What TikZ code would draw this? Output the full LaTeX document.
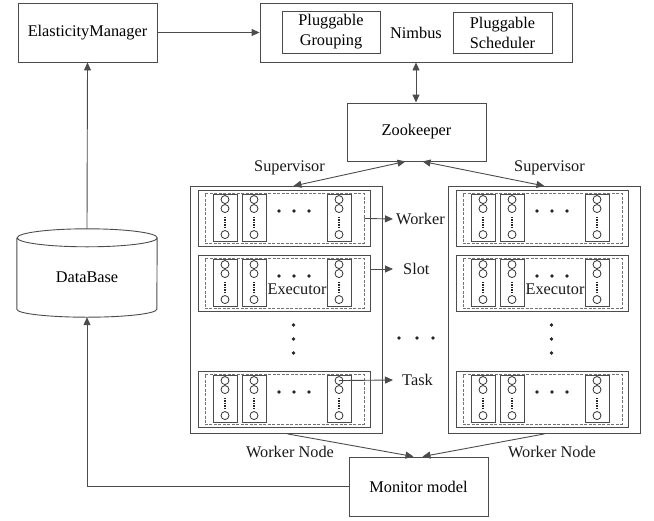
\documentclass[tikz,border=0pt]{standalone}
\usepackage{fontspec}
\setmainfont{Liberation Serif}
\usetikzlibrary{arrows.meta,calc,positioning}

\tikzset{
  box/.style={rectangle,draw=black!70,line width=0.9pt,inner sep=0pt},
  dashbox/.style={rectangle,draw=black!55,line width=0.7pt,dash pattern=on 3pt off 1.5pt,inner sep=0pt},
  ring/.style={circle,draw=black!80,line width=0.8pt,minimum size=8pt,inner sep=0pt},
  lbl/.style={inner sep=0pt,text=black!90},
  conn/.style={draw=black!70,line width=0.9pt,-{Triangle[length=8pt,width=7pt]}},
  dconn/.style={draw=black!70,line width=0.9pt,{Triangle[length=8pt,width=7pt]}-{Triangle[length=8pt,width=7pt]}}
}

\begin{document}
\begin{tikzpicture}[x=1pt,y=-1pt,font=\fontsize{16.3}{20}\selectfont]
\useasboundingbox (0,0) rectangle (654,520);

\node (em) at (87.5,32.5) [box,minimum width=139,minimum height=59] {ElasticityManager};
\node (nimbus) at (416,32.5) [box,minimum width=312,minimum height=59] {Nimbus};
\node (pg) at (331,32) [box,minimum width=98,minimum height=42,align=center] {Pluggable\\Grouping};
\node (ps) at (502.5,32.5) [box,minimum width=99,minimum height=41,align=center] {Pluggable\\Scheduler};
\node (zk) at (416.5,132) [box,minimum width=139,minimum height=58] {Zookeeper};
\node (db) at (87,277.5) [minimum width=140,minimum height=79,inner sep=0pt] {DataBase};
\node (mon) at (418.5,486.5) [box,minimum width=139,minimum height=59] {Monitor model};

\draw[draw=black!70,line width=0.9pt] (db.north west) -- ([yshift=8pt]db.south west)
  arc[start angle=180,end angle=360,x radius=70pt,y radius=8pt] -- (db.north east)
  arc[start angle=0,end angle=360,x radius=70pt,y radius=9pt];

\foreach \side/\ox in {L/190,R/448}{
  \node (\side) at (\ox,186) [box,anchor=north west,minimum width=192,minimum height=247] {};
  \foreach \row/\oy in {1/190,2/255,3/371}{
    \node (\side w\row) at (\ox+8,\oy) [box,anchor=north west,minimum width=172,minimum height=56] {};
    \node (\side d\row) at (\side w\row) [dashbox,minimum width=159,minimum height=50] {};
    \foreach \col/\cx in {1/35,2/64,3/149}{
      \node (\side c\row\col) at (\ox+\cx,\oy+27.5) [box,minimum width=24,minimum height=47] {};
      \node (\side c\row\col a) at ($(\side c\row\col.north)+(0,6)$) [ring] {};
      \node (\side c\row\col b) at ($(\side c\row\col.north)+(0,15)$) [ring] {};
      \node (\side c\row\col z) at ($(\side c\row\col.north)+(0,41)$) [ring] {};
      \draw[black!85,line width=1.5pt,densely dotted] ($(\side c\row\col.north)+(0,23)$) -- ($(\side c\row\col.north)+(0,34)$);
    }
    \foreach \dx in {89,104,119}
      \fill[black!85] (\ox+\dx,\oy+21) circle[radius=1.8];
  }
  \node (\side exec) at (\ox+107,289) [lbl] {Executor};
  \foreach \dy in {325,339,353}
    \fill[black!85] (\ox+103.5,\dy) circle[radius=1.8];
}

\foreach \dx in {399,417,433}
  \fill[black!85] (\dx,338) circle[radius=1.8];

\node (lworker) at (393,219) [lbl,anchor=west,inner xsep=3pt] {Worker};
\node (lslot) at (393,269) [lbl,anchor=west,inner xsep=10pt] {Slot};
\node (ltask) at (393,380) [lbl,anchor=west,inner xsep=9pt] {Task};
\node (lsupl) at (289.5,168) [lbl] {Supervisor};
\node (lsupr) at (549.5,168) [lbl] {Supervisor};
\node (lwnl) at (290,452) [lbl] {Worker Node};
\node (lwnr) at (552,452) [lbl] {Worker Node};

\draw[conn] (em.east) -- (nimbus.west);
\draw[conn] ([yshift=9pt]db.north) -- (em.south);
\draw[dconn] (nimbus.south) -- (nimbus.south |- zk.north);
\draw[dconn] ([xshift=-11pt]zk.south) -- ([xshift=7pt]L.north);
\draw[dconn] ([xshift=6pt]zk.south) -- (R.north);
\draw[conn] ([xshift=1pt]L.south) -- ([xshift=-5pt]mon.north);
\draw[conn] (R.south) -- ([xshift=4pt]mon.north);
\draw[conn] (mon.west) -| (db.south);
\draw[conn] (Ld1.east) -- (lworker.west);
\draw[conn] (lslot.west -| Lw2.east) -- (lslot.west);
\draw[conn] (Lc33a.center) -- (ltask.west);

\end{tikzpicture}
\end{document}
